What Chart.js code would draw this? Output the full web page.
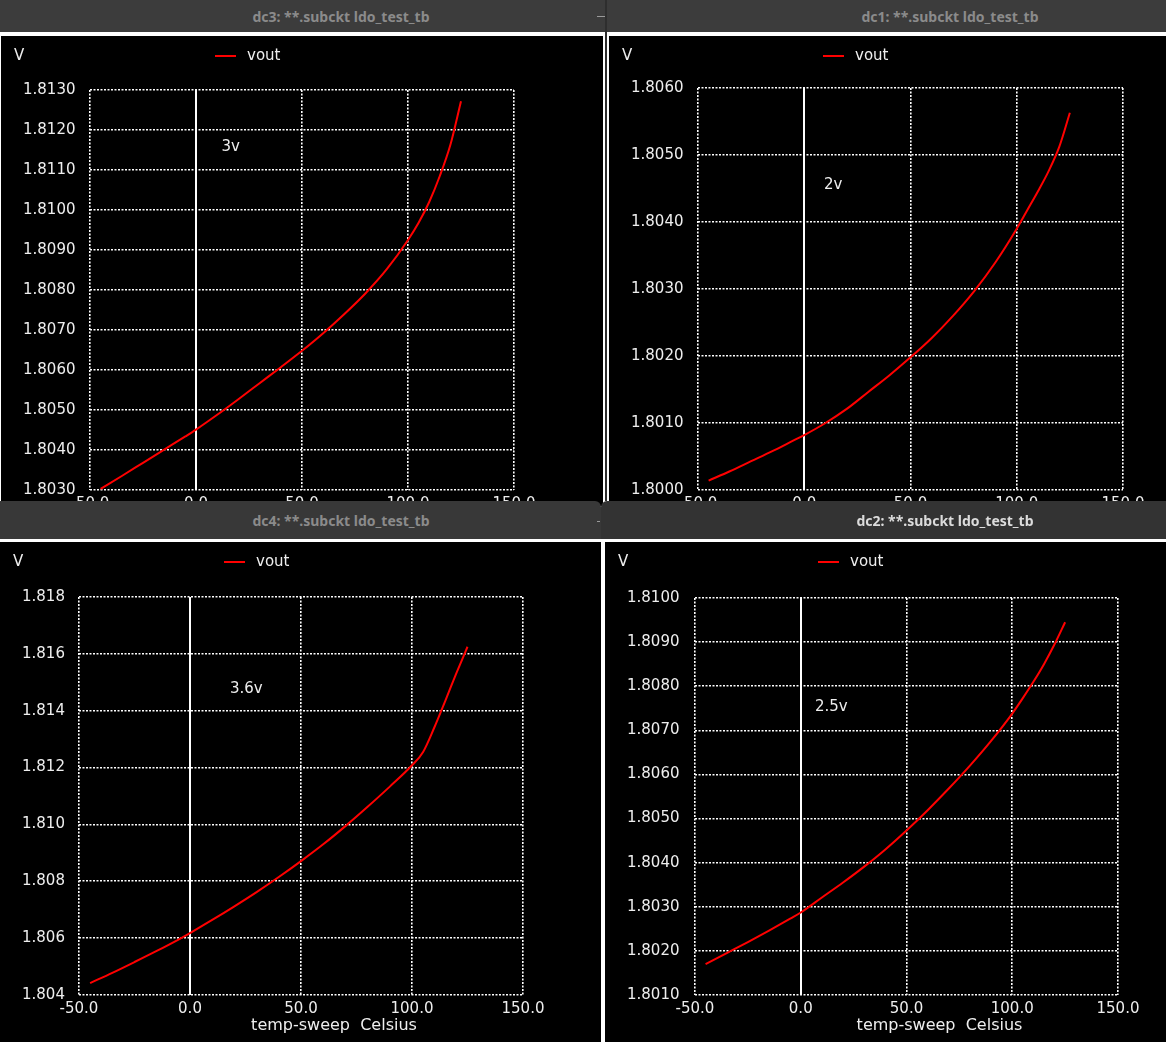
<!DOCTYPE html>
<html>
<head>
<meta charset="utf-8">
<script src="https://cdn.jsdelivr.net/npm/chart.js@4.4.1/dist/chart.umd.min.js"></script>
<style>
html, body { margin: 0; padding: 0; }
body { width: 1166px; height: 1042px; position: relative; overflow: hidden; background: #ffffff; }
.bar { position: absolute; background: #3c3c3c; color: #8b8b8b; font: bold 14px "Noto Sans", sans-serif; z-index: 3; }
.bar span { position: absolute; top: 50%; transform: translate(-50%, -50%); white-space: nowrap; }
.plot { position: absolute; background: #000000; overflow: hidden; }
.plot canvas { position: absolute; left: 0; top: 0; }
.seam { position: absolute; z-index: 4; }
</style>
</head>
<body>

<div class="plot" style="left:1px;top:36px;width:602px;height:470px"><canvas id="dc3" width="602" height="500"></canvas></div>
<div class="plot" style="left:609px;top:36px;width:557px;height:470px"><canvas id="dc1" width="557" height="500"></canvas></div>
<div class="plot" style="left:0px;top:542px;width:601px;height:500px"><canvas id="dc4" width="601" height="500"></canvas></div>
<div class="plot" style="left:605px;top:542px;width:561px;height:500px"><canvas id="dc2" width="561" height="500"></canvas></div>

<div class="bar" style="left:0;top:0;width:605px;height:32px"><span style="left:341px">dc3: **.subckt ldo_test_tb</span></div>
<div class="bar" style="left:607px;top:0;width:559px;height:32px"><span style="left:343px">dc1: **.subckt ldo_test_tb</span></div>
<div class="seam" style="left:597px;top:16px;width:8px;height:1px;background:#9a9a9a"></div>
<div class="seam" style="left:605px;top:0;width:2px;height:501px;background:#2e2e2e"></div>
<div class="bar" style="left:0;top:501px;width:601px;height:38px;background:#383838;border-top-right-radius:6px"><span style="left:341px">dc4: **.subckt ldo_test_tb</span></div>
<div class="bar" style="left:601px;top:501px;width:565px;height:38px;background:#333333;color:#dcdcdc;border-top-left-radius:6px"><span style="left:344px">dc2: **.subckt ldo_test_tb</span></div>
<div class="seam" style="left:597px;top:521px;width:3px;height:1px;background:#9a9a9a"></div>

<script>
// temperature sweep (Celsius), same for all four runs
const temps = [-45, -35, -25, -15, -5, 0, 10, 20, 30, 40, 50, 60, 70, 80, 90, 100, 105, 110, 115, 120, 125];

// vout (V) for each supply voltage
const vout3v  = [1.80303, 1.80335, 1.80368, 1.80401, 1.80434, 1.80451, 1.80488, 1.80527, 1.80567, 1.80607,
                 1.80648, 1.80692, 1.80740, 1.80792, 1.80852, 1.80925, 1.80968, 1.81020, 1.81085, 1.81163, 1.81272];
const vout2v  = [1.80014, 1.80028, 1.80043, 1.80058, 1.80074, 1.80082, 1.80100, 1.80121, 1.80146, 1.80171,
                 1.80198, 1.80227, 1.80260, 1.80297, 1.80340, 1.80390, 1.80418, 1.80446, 1.80476, 1.80512, 1.80563];
const vout36v = [1.80442, 1.80478, 1.80516, 1.80555, 1.80596, 1.80618, 1.80664, 1.80712, 1.80762, 1.80815,
                 1.80871, 1.80930, 1.80994, 1.81062, 1.81133, 1.81208, 1.81255, 1.81340, 1.81435, 1.81532, 1.81625];
const vout25v = [1.80170, 1.80195, 1.80220, 1.80246, 1.80273, 1.80287, 1.80321, 1.80355, 1.80391, 1.80430,
                 1.80473, 1.80519, 1.80568, 1.80620, 1.80676, 1.80738, 1.80773, 1.80810, 1.80850, 1.80895, 1.80945];

// tick values
const xTicks = [-50, 0, 50, 100, 150];
const yTicks3v  = [1.803, 1.804, 1.805, 1.806, 1.807, 1.808, 1.809, 1.810, 1.811, 1.812, 1.813];
const yTicks2v  = [1.800, 1.801, 1.802, 1.803, 1.804, 1.805, 1.806];
const yTicks36v = [1.804, 1.806, 1.808, 1.810, 1.812, 1.814, 1.816, 1.818];
const yTicks25v = [1.801, 1.802, 1.803, 1.804, 1.805, 1.806, 1.807, 1.808, 1.809, 1.810];

// labels written inside each plot
const notes = ['3v', '2v', '3.6v', '2.5v'];
const noteAt = [[12, 1.81158], [9.3, 1.80455], [18, 1.81477], [6.7, 1.80752]];

const FONT = { family: 'DejaVu Sans', size: 15 };
const TEXT = '#eeeeee';

// per-window layout (canvas pixels)
const panels = [
  { id: 'dc3', values: vout3v,  yTicks: yTicks3v,  dec: 4, note: 0, left: 89, right: 513, top: 54, bottom: 454, legX: 214 },
  { id: 'dc1', values: vout2v,  yTicks: yTicks2v,  dec: 4, note: 1, left: 89, right: 514, top: 52, bottom: 454, legX: 214 },
  { id: 'dc4', values: vout36v, yTicks: yTicks36v, dec: 3, note: 2, left: 79, right: 523, top: 55, bottom: 453, legX: 224 },
  { id: 'dc2', values: vout25v, yTicks: yTicks25v, dec: 4, note: 3, left: 90, right: 513, top: 56, bottom: 453, legX: 213 }
];

const decor = {
  id: 'decor',
  beforeDatasetsDraw(chart) {
    const { ctx, chartArea, scales } = chart;
    const x0 = Math.round(scales.x.getPixelForValue(0));
    ctx.save();
    ctx.strokeStyle = '#ffffff';
    ctx.lineWidth = 2;
    ctx.beginPath();
    ctx.moveTo(x0, chartArea.top);
    ctx.lineTo(x0, chartArea.bottom);
    ctx.stroke();
    ctx.restore();
  },
  afterDraw(chart, args, opts) {
    const { ctx, chartArea, scales } = chart;
    const ds = chart.data.datasets[0];
    ctx.save();
    ctx.font = '15px "DejaVu Sans"';
    ctx.fillStyle = TEXT;
    ctx.textBaseline = 'middle';
    ctx.textAlign = 'left';
    ctx.fillText('V', 13, 20);
    // legend
    ctx.strokeStyle = ds.borderColor;
    ctx.lineWidth = 2;
    ctx.beginPath();
    ctx.moveTo(opts.legX, 20);
    ctx.lineTo(opts.legX + 21, 20);
    ctx.stroke();
    ctx.fillText(ds.label, opts.legX + 32, 20);
    // run label
    const n = opts.note;
    ctx.fillText(notes[n], scales.x.getPixelForValue(noteAt[n][0]), scales.y.getPixelForValue(noteAt[n][1]));
    // x axis title
    ctx.font = '16px "DejaVu Sans"';
    ctx.textAlign = 'center';
    ctx.fillText('temp-sweep  Celsius', (chartArea.left + chartArea.right) / 2 + 33, chartArea.bottom + 31);
    ctx.restore();
  }
};

panels.forEach(p => {
  const canvas = document.getElementById(p.id);
  const W = canvas.width, H = canvas.height;
  new Chart(canvas.getContext('2d'), {
    type: 'line',
    data: {
      datasets: [{
        label: 'vout',
        data: temps.map((t, i) => ({ x: t, y: p.values[i] })),
        borderColor: '#ff0000',
        borderWidth: 2,
        pointRadius: 0,
        cubicInterpolationMode: 'monotone',
        fill: false
      }]
    },
    options: {
      responsive: false,
      animation: false,
      events: [],
      layout: { padding: { left: 22, right: W - p.right, top: p.top, bottom: 0 } },
      plugins: {
        legend: { display: false },
        tooltip: { enabled: false },
        decor: { legX: p.legX, note: p.note }
      },
      scales: {
        x: {
          type: 'linear',
          min: -50,
          max: 150,
          afterBuildTicks: s => { s.ticks = xTicks.map(v => ({ value: v })); },
          afterFit: s => { s.height = H - p.bottom; },
          grid: { color: '#ffffff', lineWidth: 1.6, drawTicks: false },
          border: { display: false, dash: [2, 1.5] },
          ticks: { color: TEXT, font: FONT, padding: 5, autoSkip: false, maxRotation: 0,
                   callback: v => Number(v).toFixed(1) }
        },
        y: {
          type: 'linear',
          min: p.yTicks[0],
          max: p.yTicks[p.yTicks.length - 1],
          afterBuildTicks: s => { s.ticks = p.yTicks.map(v => ({ value: v })); },
          afterFit: s => { s.width = p.left - 22; },
          grid: { color: '#ffffff', lineWidth: 1.6, drawTicks: false },
          border: { display: false, dash: [2, 1.5] },
          ticks: { color: TEXT, font: FONT, autoSkip: false, crossAlign: 'far',
                   callback: v => Number(v).toFixed(p.dec) }
        }
      }
    },
    plugins: [decor]
  });
});
</script>
</body>
</html>
